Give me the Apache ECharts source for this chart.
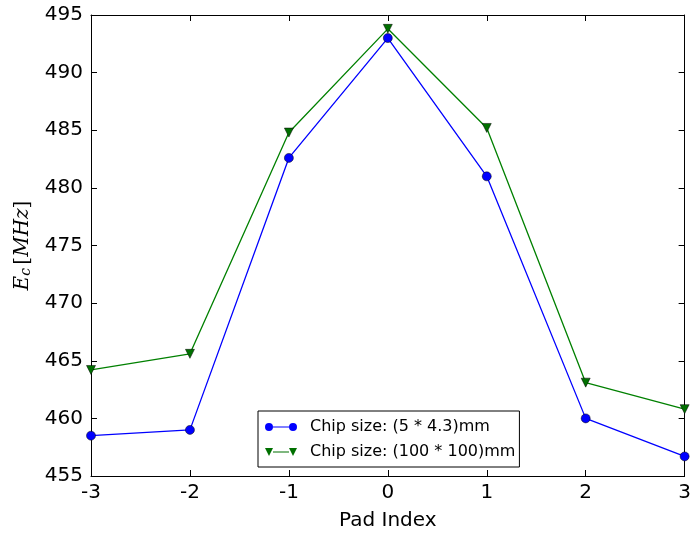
<!DOCTYPE html>
<html>
<head>
<meta charset="utf-8">
<script src="https://cdn.jsdelivr.net/npm/echarts@6/dist/echarts.min.js"></script>
<style>
  html, body { margin: 0; padding: 0; background: #fff; }
  #chart { width: 694px; height: 540px; }
</style>
</head>
<body>
<div id="chart"></div>
<script>
// values
const padIndex = [-3, -2, -1, 0, 1, 2, 3];
const chipSmall = [458.5, 459.0, 482.6, 493.0, 481.0, 460.0, 456.7];
const chipLarge = [464.2, 465.6, 484.8, 493.8, 485.2, 463.1, 460.8];
const seriesNames = ["Chip size: (5 * 4.3)mm", "Chip size: (100 * 100)mm"];

const pts = (ys) => padIndex.map((x, i) => [x, ys[i]]);

const circleIcon = "path://M0,4a4,4 0 1,0 8,0a4,4 0 1,0 -8,0Z M8,3.4h16v1.2h-16Z M24,4a4,4 0 1,0 8,0a4,4 0 1,0 -8,0Z";
const triIcon = "path://M0,0h8l-4,8Z M8,3.4h16v1.2h-16Z M24,0h8l-4,8Z";

const font = "DejaVu Sans";
let myChart = echarts.init(document.getElementById("chart"));

const tickStyle = { inside: true, length: 6, lineStyle: { color: "#000", width: 1 } };
const lineStyleAxis = { show: true, onZero: false, lineStyle: { color: "#000", width: 1 } };

const option = {
  animation: false,
  backgroundColor: "#fff",
  grid: { left: 91, right: 8, top: 15, bottom: 64 },
  legend: {
    orient: "vertical",
    left: 258,
    top: 411,
    padding: [8, 4, 7, 7],
    itemGap: 9,
    itemWidth: 32,
    itemHeight: 9,
    borderColor: "#000",
    borderWidth: 1,
    backgroundColor: "#fff",
    textStyle: { fontFamily: font, fontSize: 16, color: "#000", padding: [0, 0, 0, 8] },
    data: [
      { name: seriesNames[0], icon: circleIcon, itemStyle: { color: "#0000ff", borderWidth: 0 } },
      { name: seriesNames[1], icon: triIcon, itemStyle: { color: "#007000", borderWidth: 0 } },
    ],
  },
  xAxis: [
    {
      type: "value",
      min: -3,
      max: 3,
      interval: 1,
      name: "Pad Index",
      nameLocation: "middle",
      nameGap: 35,
      nameTextStyle: { fontFamily: font, fontSize: 20, color: "#000" },
      axisLine: lineStyleAxis,
      axisTick: tickStyle,
      axisLabel: { fontFamily: font, fontSize: 20, color: "#000", margin: 7 },
      splitLine: { show: false },
    },
    {
      type: "value",
      position: "top",
      min: -3,
      max: 3,
      interval: 1,
      axisLine: lineStyleAxis,
      axisTick: tickStyle,
      axisLabel: { show: false },
      splitLine: { show: false },
    },
  ],
  yAxis: [
    {
      type: "value",
      position: "left",
      min: 455,
      max: 495,
      interval: 5,
      name: "{i|E}{s|c} {n|[}{i|MHz}{n|]}",
      nameLocation: "middle",
      nameRotate: 90,
      nameGap: 58,
      nameTextStyle: {
        rich: {
          i: { fontFamily: "DejaVu Serif", fontStyle: "italic", fontSize: 20, color: "#000" },
          s: { fontFamily: "DejaVu Serif", fontStyle: "italic", fontSize: 14, color: "#000", verticalAlign: "bottom", padding: [6, 0, 0, 0] },
          n: { fontFamily: "DejaVu Serif", fontSize: 20, color: "#000" },
        },
      },
      axisLine: lineStyleAxis,
      axisTick: tickStyle,
      axisLabel: { fontFamily: font, fontSize: 20, color: "#000", margin: 8 },
      splitLine: { show: false },
    },
    {
      type: "value",
      position: "right",
      min: 455,
      max: 495,
      interval: 5,
      axisLine: lineStyleAxis,
      axisTick: tickStyle,
      axisLabel: { show: false },
      splitLine: { show: false },
    },
  ],
  series: [
    {
      name: seriesNames[0],
      type: "line",
      data: pts(chipSmall),
      symbol: "circle",
      symbolSize: 9,
      lineStyle: { color: "#0000ff", width: 1.3 },
      itemStyle: { color: "#0000ff", borderColor: "#000", borderWidth: 0.5 },
      clip: false,
      z: 3,
    },
    {
      name: seriesNames[1],
      type: "line",
      data: pts(chipLarge),
      symbol: "triangle",
      symbolRotate: 180,
      symbolSize: 9,
      lineStyle: { color: "#008000", width: 1.3 },
      itemStyle: { color: "#007000", borderColor: "#000", borderWidth: 0.5 },
      clip: false,
      z: 3,
    },
  ],
};

myChart.setOption(option, true);
window.addEventListener("resize", function () {
  myChart.resize();
});
</script>
</body>
</html>
